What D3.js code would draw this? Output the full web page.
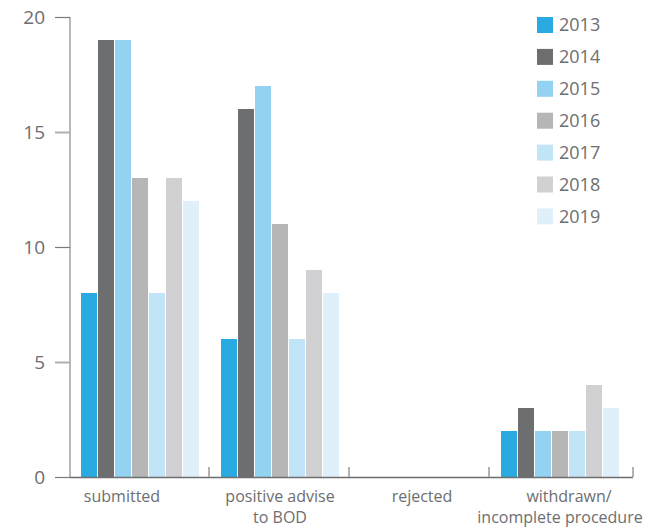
<!DOCTYPE html>
<html>
<head>
<meta charset="utf-8">
<script src="https://cdn.jsdelivr.net/npm/d3@7"></script>
<style>
  html, body { margin: 0; padding: 0; background: #fff; }
  svg text { font-family: "Open Sans", "Noto Sans", sans-serif; fill: #6d6e70; }
</style>
</head>
<body>
<svg id="chart" width="671" height="528"></svg>
<script>
// Category labels (each entry is a list of lines)
const categories = [
  ["submitted"],
  ["positive advise", "to BOD"],
  ["rejected"],
  ["withdrawn/", "incomplete procedure"]
];
const years = ["2013", "2014", "2015", "2016", "2017", "2018", "2019"];
const colors = ["#29abe2", "#6d6e70", "#93d3f1", "#b6b6b6", "#c2e4f7", "#d1d1d3", "#dff0fb"];

// Counts per year, one value per category
const v2013 = [8, 6, 0, 2];
const v2014 = [19, 16, 0, 3];
const v2015 = [19, 17, 0, 2];
const v2016 = [13, 11, 0, 2];
const v2017 = [8, 6, 0, 2];
const v2018 = [13, 9, 0, 4];
const v2019 = [12, 8, 0, 3];
const series = [v2013, v2014, v2015, v2016, v2017, v2018, v2019];

const yTicks = [0, 5, 10, 15, 20];

// Horizontal nudges for each label line, relative to the band centre
const labelNudge = [[-18], [0, 0], [2], [9, 0]];

const svg = d3.select("#chart");
const plotLeft = 70, plotRight = 630, plotTop = 17, plotBottom = 477;

const x0 = d3.scaleBand().domain(d3.range(categories.length)).range([plotLeft, plotRight]).paddingInner(0).paddingOuter(0);
const barStep = 17, barW = 16;
const x1 = d3.scaleBand().domain(years).range([0, barStep * years.length]).paddingInner(0);
const y = d3.scaleLinear().domain([0, 20]).range([plotBottom, plotTop]);

// Bars
const groups = svg.append("g").selectAll("g")
  .data(categories.map((c, i) => i))
  .join("g")
  .attr("transform", i => `translate(${x0(i) + (x0.bandwidth() - barStep * years.length) / 2 + 0.5},0)`);

groups.selectAll("rect")
  .data(i => years.map((yr, k) => ({ yr, k, v: series[k][i] })))
  .join("rect")
  .attr("x", d => x1(d.yr))
  .attr("width", barW)
  .attr("y", d => y(d.v))
  .attr("height", d => y(0) - y(d.v))
  .attr("fill", d => colors[d.k]);

// Y axis
const yAxis = svg.append("g").attr("transform", `translate(${plotLeft},0)`)
  .call(d3.axisLeft(y).tickValues(yTicks).tickSize(15).tickPadding(10).tickFormat(d3.format("d")));
yAxis.select(".domain").attr("stroke", "#8a8a8a").attr("stroke-width", 1.2).attr("d", `M0,${plotTop}V${plotBottom}`);
yAxis.selectAll(".tick line")
  .attr("stroke", d => d % 10 === 0 ? "#7a7a7a" : "#b0b0b0")
  .attr("stroke-width", d => d % 10 === 0 ? 1.2 : 2);
yAxis.selectAll(".tick text").style("font-size", "19px").attr("fill", "#6d6e70").attr("dy", "0.36em");

// X axis with upward ticks at category boundaries
const xAxis = svg.append("g");
xAxis.append("line")
  .attr("x1", plotLeft).attr("x2", plotRight + 3)
  .attr("y1", plotBottom + 0.5).attr("y2", plotBottom + 0.5)
  .attr("stroke", "#6d6e70").attr("stroke-width", 1.5);
const bounds = d3.range(1, categories.length + 1).map(i => i < categories.length ? x0(i) - 1 : plotRight + 3);
xAxis.selectAll("line.tk").data(bounds).join("line")
  .attr("class", "tk")
  .attr("x1", d => d).attr("x2", d => d)
  .attr("y1", plotBottom - 10).attr("y2", plotBottom)
  .attr("stroke", "#9a9a9a").attr("stroke-width", 1.5);

// Category labels
const labels = svg.append("g").selectAll("text")
  .data(categories.map((c, i) => ({ lines: c, i })))
  .join("text")
  .attr("text-anchor", "middle")
  .style("font-size", "16px")
  .attr("y", 502);
labels.selectAll("tspan")
  .data(d => d.lines.map((t, j) => ({ t, j, i: d.i })))
  .join("tspan")
  .attr("x", d => x0(d.i) + x0.bandwidth() / 2 + labelNudge[d.i][d.j])
  .attr("dy", d => d.j === 0 ? 0 : 21)
  .text(d => d.t);

// Legend
const legend = svg.append("g").selectAll("g")
  .data(years)
  .join("g")
  .attr("transform", (d, i) => `translate(537,${17 + i * 31.9})`);
legend.append("rect").attr("width", 16).attr("height", 16).attr("fill", (d, i) => colors[i]);
legend.append("text").attr("x", 22).attr("y", 8).attr("dy", "0.36em")
  .style("font-size", "18px").text(d => d);
</script>
</body>
</html>
